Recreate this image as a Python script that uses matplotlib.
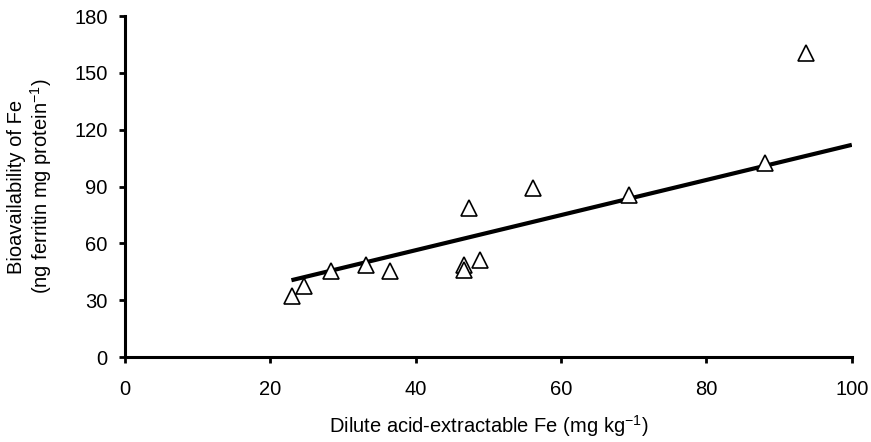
import numpy as np
import matplotlib
matplotlib.use("Agg")
from matplotlib import pyplot as plt

plt.rcParams['font.family'] = ['Liberation Sans', 'DejaVu Sans']
plt.rcParams['mathtext.default'] = 'regular'

# dilute acid-extractable Fe (mg/kg) vs bioavailability (ng ferritin / mg protein)
fe_extract = [23.0, 24.6, 28.4, 33.2, 36.5, 46.6, 46.6, 47.3, 48.9, 56.2, 69.3, 88.1, 93.7]
bioavail = [32.3, 37.3, 45.3, 48.8, 45.3, 48.8, 46.0, 78.5, 51.3, 89.3, 85.6, 102.6, 160.5]

# regression line
slope = 0.927
intercept = 19.3
line_x = [22.9, 100]

xticks = [0, 20, 40, 60, 80, 100]
yticks = [0, 30, 60, 90, 120, 150, 180]

fig = plt.figure(figsize=(8.71, 4.42), dpi=100)
ax = fig.add_axes([0.1435, 0.1923, 0.8345, 0.7715])

lx = np.array(line_x)
ax.plot(lx, slope * lx + intercept, color='black', lw=3, solid_capstyle='butt', zorder=2)
ax.plot(fe_extract, bioavail, linestyle='none', marker='^', ms=11,
        mfc='white', mec='black', mew=1.2, zorder=3)

ax.set_xlim(0, 100)
ax.set_ylim(0, 180)
ax.set_xticks(xticks)
ax.set_yticks(yticks)
ax.spines['top'].set_visible(False)
ax.spines['right'].set_visible(False)
for s in ['left', 'bottom']:
    ax.spines[s].set_linewidth(2.2)
ax.tick_params(direction='out', length=4.5, width=2, labelsize=14.5, color='black')
ax.tick_params(axis='x', pad=12)
ax.tick_params(axis='y', pad=8)

ax.set_xlabel('Dilute acid-extractable Fe (mg kg$^{-1}$)', fontsize=14.5, labelpad=10)
ax.set_ylabel('Bioavailability of Fe\n(ng ferritin mg protein$^{-1}$)', fontsize=14.5,
              linespacing=1.1)
ax.yaxis.set_label_coords(-0.098, 0.5)

fig.savefig('out.png', dpi=100)
